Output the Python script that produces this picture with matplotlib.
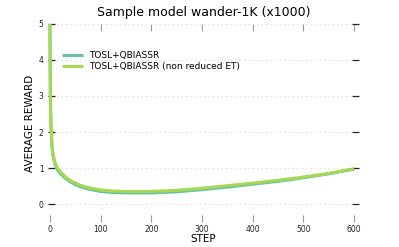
import matplotlib
matplotlib.use("Agg")
import matplotlib.pyplot as plt

steps = [0, 1, 2, 4, 6, 10, 15, 20, 30, 40, 50, 60, 75, 100, 125, 150, 200, 250, 300, 350, 400, 450, 500, 550, 600]
tosl = [5.0, 2.8, 2.2, 1.6, 1.35, 1.1, 0.95, 0.85, 0.72, 0.62, 0.54, 0.48, 0.42, 0.35, 0.32, 0.31, 0.31, 0.34, 0.40, 0.47, 0.55, 0.63, 0.73, 0.84, 0.97]
tosl_nr = [5.0, 2.85, 2.25, 1.65, 1.4, 1.15, 1.0, 0.9, 0.76, 0.66, 0.58, 0.52, 0.46, 0.39, 0.36, 0.35, 0.35, 0.38, 0.44, 0.51, 0.58, 0.66, 0.75, 0.85, 0.98]
series_labels = ["TOSL+QBIASSR", "TOSL+QBIASSR (non reduced ET)"]
xticks = [0, 100, 200, 300, 400, 500, 600]
yticks = [0, 1, 2, 3, 4, 5]

fig = plt.figure(figsize=(3.99, 2.47), dpi=100)
ax = fig.add_axes([0.120, 0.101, 0.780, 0.802])

ax.plot(steps, tosl, color="#66c2a5", lw=2.2, label=series_labels[0], solid_capstyle="butt")
ax.plot(steps, tosl_nr, color="#a6d854", lw=2.2, label=series_labels[1], solid_capstyle="butt")

ax.set_xlim(-4, 610)
ax.set_ylim(-0.5, 5)
ax.set_xticks(xticks)
ax.set_yticks(yticks)
for s in ax.spines.values():
    s.set_visible(False)
ax.grid(axis="y", linestyle=(0, (1, 3)), color="#d8d8d8", lw=0.8)
ax.set_axisbelow(True)

ax.tick_params(axis="x", direction="in", length=5, width=0.8, color="#999999",
               labelsize=5.5, labelcolor="#222222", top=True, bottom=True, pad=2)
ax.tick_params(axis="y", direction="in", length=5, width=0.9, color="#222222",
               labelsize=5.5, labelcolor="#222222", left=True, right=True, pad=3)

ax.set_title("Sample model wander-1K (x1000)", fontsize=9, pad=6)
ax.set_xlabel("STEP", fontsize=7.5, labelpad=0)
ax.set_ylabel("AVERAGE REWARD", fontsize=7.5, labelpad=3)

ax.legend(loc="upper left", bbox_to_anchor=(0.02, 0.905), frameon=False, fontsize=6.5,
          handlelength=2.3, handletextpad=0.7, labelspacing=0.2)

fig.savefig("out.png", dpi=100)
